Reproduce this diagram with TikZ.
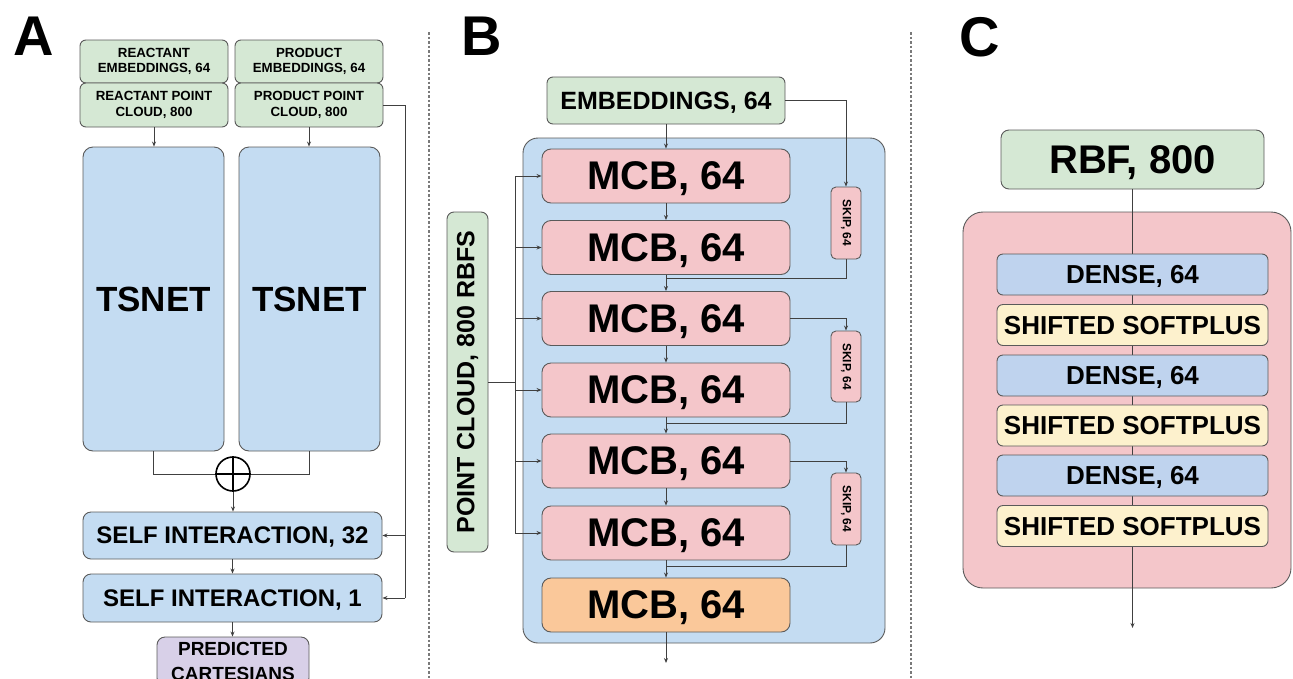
\documentclass[tikz,border=0pt]{standalone}
\usepackage{fontspec}
\setmainfont{Liberation Sans}
\usetikzlibrary{arrows.meta}
\definecolor{gfill}{HTML}{D5E8D4}
\definecolor{bfill}{HTML}{C4DCF2}
\definecolor{pfill}{HTML}{F4C6CA}
\definecolor{ofill}{HTML}{FAC89A}
\definecolor{yfill}{HTML}{FDF1CD}
\definecolor{vfill}{HTML}{D8D0E8}
\definecolor{dfill}{HTML}{BFD3EE}
\definecolor{edgec}{HTML}{5A5A5A}
\definecolor{linec}{HTML}{404040}
\definecolor{sepc}{HTML}{7A7A7A}
\begin{document}
\begin{tikzpicture}[x=1pt,y=-1pt,
  box/.style={draw=edgec, line width=0.9pt, rounded corners=6pt, inner sep=0pt, align=center},
  wire/.style={draw=linec, line width=0.8pt},
  arr/.style={wire, -{Stealth[length=5pt,width=4pt]}},
  sep/.style={draw=sepc, line width=1.3pt, dash pattern=on 2.5pt off 2pt},
  lbl/.style={font=\bfseries\fontsize{56}{56}\selectfont, anchor=base west, inner sep=0pt},
  fA/.style={font=\bfseries\fontsize{13.3}{15.5}\selectfont},
  fM/.style={font=\bfseries\fontsize{40}{44}\selectfont, text depth=0pt},
  fS/.style={font=\bfseries\fontsize{24}{28}\selectfont, text depth=0pt},
  fD/.style={font=\bfseries\fontsize{26}{30}\selectfont, text depth=0pt},
]
\useasboundingbox (0,0) rectangle (1293,678);
\clip (0,0) rectangle (1293,678);

% ---------- separators and labels
\draw[sep] (429,32) -- (429,678);
\draw[sep] (911,32) -- (911,678);
\node[lbl] (labA) at (13,55) {A};
\node[lbl] (labB) at (461,55) {B};
\node[lbl] (labC) at (959,56) {C};

% ---------- Panel A
\node[box, fill=gfill, minimum width=148pt, minimum height=43pt, fA] (re) at (154,61.5) {REACTANT\\EMBEDDINGS, 64};
\node[box, fill=gfill, minimum width=148pt, minimum height=44pt, fA] (rpc) at (154,105) {REACTANT POINT\\CLOUD, 800};
\node[box, fill=gfill, minimum width=148pt, minimum height=43pt, fA] (pe) at (309,61.5) {PRODUCT\\EMBEDDINGS, 64};
\node[box, fill=gfill, minimum width=148pt, minimum height=44pt, fA] (ppc) at (309,105) {PRODUCT POINT\\CLOUD, 800};
\node[box, fill=bfill, rounded corners=10pt, minimum width=141pt, minimum height=304pt, font=\bfseries\fontsize{35}{40}\selectfont] (ts1) at (153.5,299) {TSNET};
\node[box, fill=bfill, rounded corners=10pt, minimum width=141pt, minimum height=304pt, font=\bfseries\fontsize{35}{40}\selectfont] (ts2) at (309.5,299) {TSNET};
\node[circle, draw=black, line width=1.6pt, minimum size=34pt, inner sep=0pt] (op) at (233,474) {};
\draw[black, line width=1.6pt] (op.north) -- (op.south) (op.west) -- (op.east);
\node[box, fill=bfill, rounded corners=8pt, minimum width=299pt, minimum height=47pt, fS] (si32) at (232.5,535.5) {SELF INTERACTION, 32};
\node[box, fill=bfill, rounded corners=8pt, minimum width=299pt, minimum height=48pt, fS] (si1) at (232.5,598) {SELF INTERACTION, 1};
\node[box, fill=vfill, rounded corners=8pt, minimum width=152pt, minimum height=49pt, font=\bfseries\fontsize{19}{25}\selectfont] (pred) at (233,661.5) {PREDICTED\\CARTESIANS};

\draw[arr] (rpc.south) -- (rpc.south |- ts1.north);
\draw[arr] (ppc.south) -- (ppc.south |- ts2.north);
\draw[wire] (ts1.south) |- (op.west);
\draw[wire] (ts2.south) |- (op.east);
\draw[arr] (op.south) -- (op.south |- si32.north);
\draw[arr] (si32.south) -- (si32.south |- si1.north);
\draw[arr] (si1.south) -- (si1.south |- pred.north);
\coordinate (fb) at (405,105);
\draw[wire] (ppc.east) -- (fb) -- (fb |- si1.east);
\draw[arr] (fb |- si32.east) -- (si32.east);
\draw[arr] (fb |- si1.east) -- (si1.east);

% ---------- Panel B
\node[box, fill=bfill, rounded corners=15pt, minimum width=362pt, minimum height=505pt] (contB) at (704,390.5) {};
\node[box, fill=gfill, minimum width=238pt, minimum height=47pt, font=\bfseries\fontsize{25}{29}\selectfont, text depth=0pt] (emb) at (666,100.5) {EMBEDDINGS, 64};
\node[box, fill=pfill, rounded corners=9pt, minimum width=248pt, minimum height=54pt, fM] (m1) at (666,176) {MCB, 64};
\node[box, fill=pfill, rounded corners=9pt, minimum width=248pt, minimum height=54pt, fM] (m2) at (666,247.5) {MCB, 64};
\node[box, fill=pfill, rounded corners=9pt, minimum width=248pt, minimum height=54pt, fM] (m3) at (666,318.5) {MCB, 64};
\node[box, fill=pfill, rounded corners=9pt, minimum width=248pt, minimum height=54pt, fM] (m4) at (666,390) {MCB, 64};
\node[box, fill=pfill, rounded corners=9pt, minimum width=248pt, minimum height=54pt, fM] (m5) at (666,461) {MCB, 64};
\node[box, fill=pfill, rounded corners=9pt, minimum width=248pt, minimum height=54pt, fM] (m6) at (666,533) {MCB, 64};
\node[box, fill=ofill, rounded corners=9pt, minimum width=248pt, minimum height=54pt, fM] (m7) at (666,605) {MCB, 64};
\node[box, fill=pfill, rounded corners=5pt, minimum width=30pt, minimum height=72pt] (sk1) at (846,223) {};
\node[rotate=-90, font=\bfseries\fontsize{12}{14}\selectfont, inner sep=0pt] (sk1t) at (sk1.center) {SKIP, 64};
\node[box, fill=pfill, rounded corners=5pt, minimum width=30pt, minimum height=71pt] (sk2) at (846,366.5) {};
\node[rotate=-90, font=\bfseries\fontsize{12}{14}\selectfont, inner sep=0pt] (sk2t) at (sk2.center) {SKIP, 64};
\node[box, fill=pfill, rounded corners=5pt, minimum width=30pt, minimum height=72pt] (sk3) at (846,509) {};
\node[rotate=-90, font=\bfseries\fontsize{12}{14}\selectfont, inner sep=0pt] (sk3t) at (sk3.center) {SKIP, 64};
\node[box, fill=gfill, rounded corners=7pt, minimum width=41pt, minimum height=340pt] (pc) at (467.5,382) {};
\node[rotate=90, font=\bfseries\fontsize{25}{29}\selectfont, inner sep=0pt] (pct) at (pc.center) {POINT CLOUD, 800 RBFS};

\draw[arr] (emb.south) -- (m1.north);
\draw[arr] (m1.south) -- (m2.north);
\draw[arr] (m2.south) -- (m3.north);
\draw[arr] (m3.south) -- (m4.north);
\draw[arr] (m4.south) -- (m5.north);
\draw[arr] (m5.south) -- (m6.north);
\draw[arr] (m6.south) -- (m7.north);
\coordinate (outB) at (666,663);
\draw[arr] (m7.south) -- (outB);
\coordinate (j1) at (666,278);
\coordinate (j2) at (666,423);
\coordinate (j3) at (666,566);
\draw[arr] (emb.east) -| (sk1.north);
\draw[wire] (sk1.south) |- (j1);
\draw[arr] (m3.east) -| (sk2.north);
\draw[wire] (sk2.south) |- (j2);
\draw[arr] (m5.east) -| (sk3.north);
\draw[wire] (sk3.south) |- (j3);
\coordinate (bus) at (515,382);
\draw[wire] (pc.east) -- (bus);
\draw[wire] (bus |- m1.west) -- (bus |- m6.west);
\foreach \m in {m1,m2,m3,m4,m5,m6} {\draw[arr] (bus |- \m.west) -- (\m.west);}

% ---------- Panel C
\node[box, fill=pfill, rounded corners=20pt, minimum width=328pt, minimum height=376pt] (contC) at (1127,400) {};
\node[box, fill=gfill, rounded corners=8pt, minimum width=263pt, minimum height=59pt, fM] (rbf) at (1132.5,159.5) {RBF, 800};
\coordinate (outC) at (1132.5,628);
\draw[arr] (rbf.south) -- (outC);
\node[box, fill=dfill, minimum width=271pt, minimum height=41pt, fD] (d1) at (1132.5,274.5) {DENSE, 64};
\node[box, fill=yfill, minimum width=271pt, minimum height=41pt, fD] (s1) at (1132.5,325) {SHIFTED SOFTPLUS};
\node[box, fill=dfill, minimum width=271pt, minimum height=41pt, fD] (d2) at (1132.5,375.5) {DENSE, 64};
\node[box, fill=yfill, minimum width=271pt, minimum height=41pt, fD] (s2) at (1132.5,425.5) {SHIFTED SOFTPLUS};
\node[box, fill=dfill, minimum width=271pt, minimum height=41pt, fD] (d3) at (1132.5,475.5) {DENSE, 64};
\node[box, fill=yfill, minimum width=271pt, minimum height=41pt, fD] (s3) at (1132.5,526) {SHIFTED SOFTPLUS};
\end{tikzpicture}
\end{document}
